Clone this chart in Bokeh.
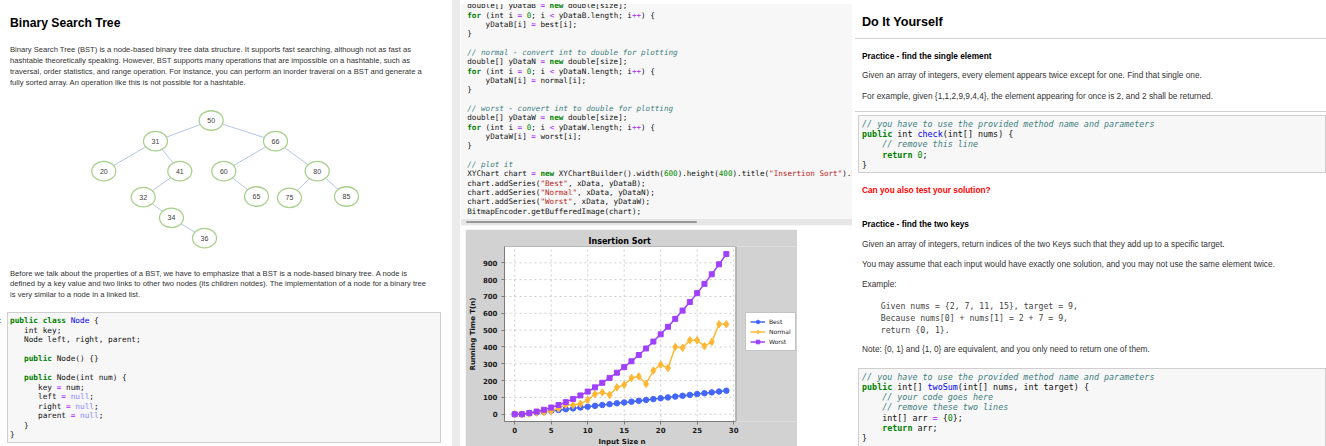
import html
import re
from bokeh.plotting import figure
from bokeh.models import (Div, Legend, LegendItem, ColumnDataSource, Range1d,
                          FixedTicker, Row, Column, Title)
from bokeh.embed import file_html
from bokeh.resources import INLINE
from bokeh.core.properties import value

PAGE_W, PAGE_H = 1326, 446

# ---------------- chart data ----------------
input_sizes = list(range(30))
best_times = [0, 0, 5, 10, 15, 20, 25, 30, 35, 40, 45, 50, 55, 60, 65,
              70, 75, 80, 85, 90, 95, 100, 105, 110, 115, 120, 125, 130, 135, 140]
normal_times = [0, 0, 5, 10, 13, 20, 35, 57, 55, 62, 85, 120, 130, 115, 160,
                175, 215, 225, 180, 260, 295, 275, 400, 395, 440, 440, 405, 430, 535, 535]
worst_times = [0, 0, 7, 16, 27, 40, 55, 72, 91, 112, 135, 160, 187, 216, 247,
               280, 315, 352, 391, 432, 475, 520, 567, 616, 667, 720, 775, 832, 891, 952]
series_labels = ["Best", "Normal", "Worst"]
x_tick_values = [0, 5, 10, 15, 20, 25, 30]
y_tick_values = [0, 100, 200, 300, 400, 500, 600, 700, 800, 900]

# ---------------- tree diagram data ----------------
node_keys = [50, 31, 66, 20, 41, 60, 80, 32, 65, 75, 85, 34, 36]
node_parents = [None, 50, 50, 31, 31, 66, 66, 41, 60, 80, 80, 32, 34]
node_x = [210.7, 155, 275, 103.3, 179.3, 223.3, 316.7, 142.7, 256, 289, 346, 171, 204]
node_y = [20, 40.7, 40.7, 70.7, 70.7, 70.7, 70.7, 96.7, 96, 97.3, 96, 117.3, 137.7]

# ---------------- page texts ----------------
left_title = "Binary Search Tree"
left_para1 = [
    "Binary Search Tree (BST) is a node-based binary tree data structure. It supports fast searching, although not as fast as",
    "hashtable theoretically speaking. However, BST supports many operations that are impossible on a hashtable, such as",
    "traversal, order statistics, and range operation. For instance, you can perform an inorder traveral on a BST and generate a",
    "fully sorted array. An operation like this is not possible for a hashtable.",
]
left_para2 = [
    "Before we talk about the properties of a BST, we have to emphasize that a BST is a node-based binary tree. A node is",
    "defined by a key value and two links to other two nodes (its children notdes). The implementation of a node for a binary tree",
    "is very similar to a node in a linked list.",
]
left_code = [
    "public class Node {",
    "   int key;",
    "   Node left, right, parent;",
    "",
    "   public Node() {}",
    "",
    "   public Node(int num) {",
    "      key = num;",
    "      left = null;",
    "      right = null;",
    "      parent = null;",
    "   }",
    "}",
]
mid_code = [
    "double[] yDataB = new double[size];",
    "for (int i = 0; i < yDataB.length; i++) {",
    "    yDataB[i] = best[i];",
    "}",
    "",
    "// normal - convert int to double for plotting",
    "double[] yDataN = new double[size];",
    "for (int i = 0; i < yDataN.length; i++) {",
    "    yDataN[i] = normal[i];",
    "}",
    "",
    "// worst - convert int to double for plotting",
    "double[] yDataW = new double[size];",
    "for (int i = 0; i < yDataW.length; i++) {",
    "    yDataW[i] = worst[i];",
    "}",
    "",
    "// plot it",
    'XYChart chart = new XYChartBuilder().width(600).height(400).title("Insertion Sort").build();',
    'chart.addSeries("Best", xData, yDataB);',
    'chart.addSeries("Normal", xData, yDataN);',
    'chart.addSeries("Worst", xData, yDataW);',
    "BitmapEncoder.getBufferedImage(chart);",
]
right_title = "Do It Yourself"
practice1_head = "Practice - find the single element"
practice1_text = [
    "Given an array of integers, every element appears twice except for one. Find that single one.",
    "For example, given {1,1,2,9,9,4,4}, the element appearing for once is 2, and 2 shall be returned.",
]
practice1_code = [
    "// you have to use the provided method name and parameters",
    "public int check(int[] nums) {",
    "    // remove this line",
    "    return 0;",
    "}",
]
test_question = "Can you also test your solution?"
practice2_head = "Practice - find the two keys"
practice2_text = [
    "Given an array of integers, return indices of the two Keys such that they add up to a specific target.",
    "You may assume that each input would have exactly one solution, and you may not use the same element twice.",
    "Example:",
]
practice2_example = [
    "    Given nums = {2, 7, 11, 15}, target = 9,",
    "    Because nums[0] + nums[1] = 2 + 7 = 9,",
    "    return {0, 1}.",
]
practice2_note = "Note: {0, 1} and {1, 0} are equivalent, and you only need to return one of them."
practice2_code = [
    "// you have to use the provided method name and parameters",
    "public int[] twoSum(int[] nums, int target) {",
    "    // your code goes here",
    "    // remove these two lines",
    "    int[] arr = {0};",
    "    return arr;",
    "}",
]

# ---------------- helpers ----------------
SANS = "'Liberation Sans', Arial, Helvetica, sans-serif"
MONO = "'DejaVu Sans Mono', monospace"

KEYWORDS = {"public", "class", "for", "new", "return"}
ATOMS = {"null", "true", "false"}
DEF_NAMES = {"check", "twoSum"}
TOKENS = re.compile(r'(//.*)|("[^"]*")|(\d+)|([A-Za-z_]\w*)|([=<>+\-*/!&|%]+)|(\s+)|(.)')


def highlight(src):
    out = []
    prev = None
    for m in TOKENS.finditer(src):
        com, st, num, word, op, ws, other = m.groups()
        tok = html.escape(m.group(0))
        if com:
            out.append(f'<span style="color:#408080;font-style:italic">{tok}</span>')
        elif st:
            out.append(f'<span style="color:#BA2121">{tok}</span>')
        elif num:
            out.append(f'<span style="color:#008800">{tok}</span>')
        elif word:
            if word in KEYWORDS:
                out.append(f'<span style="color:#008000;font-weight:bold">{tok}</span>')
            elif word in ATOMS:
                out.append(f'<span style="color:#8888FF">{tok}</span>')
            elif word in DEF_NAMES or prev == "class":
                out.append(f'<span style="color:#0000FF">{tok}</span>')
            else:
                out.append(tok)
            prev = word
        elif op:
            out.append(f'<span style="color:#AA22FF">{tok}</span>')
        else:
            out.append(tok)
    return "".join(out)


def text_el(x, yc, inner, size, lh=None, color="#333", weight="normal", family=SANS):
    lh = lh if lh else round(size * 1.35, 2)
    top = yc - lh / 2
    return (f'<div style="position:absolute;left:{x:.2f}px;top:{top:.2f}px;'
            f'font-family:{family};font-size:{size}px;line-height:{lh}px;'
            f'color:{color};font-weight:{weight};white-space:pre;margin:0;padding:0;">{inner}</div>')


def rect_el(x, y, w, h, bg, extra=""):
    return (f'<div style="position:absolute;left:{x}px;top:{y}px;width:{w}px;height:{h}px;'
            f'background:{bg};{extra}"></div>')


def code_block(bx, by, bw, bh, lines, tx, ty0, step, size, bg="#f7f7f7",
               border="#cfcfcf", hl=True, color="#111"):
    b = 1 if border else 0
    inner = []
    for i, line in enumerate(lines):
        content = highlight(line) if hl else html.escape(line)
        inner.append(text_el(tx - bx - b, ty0 + i * step - by - b, content, size,
                             lh=step, color=color, family=MONO))
    style = (f"position:absolute;left:{bx}px;top:{by}px;width:{bw}px;height:{bh}px;"
             f"overflow:hidden;box-sizing:border-box;")
    if bg:
        style += f"background:{bg};"
    if border:
        style += f"border:1px solid {border};"
    return f'<div style="{style}">' + "".join(inner) + "</div>"


def make_div(w, h, parts, bg="#ffffff"):
    body = (f'<div style="position:relative;width:{w}px;height:{h}px;overflow:hidden;'
            f'background:{bg};margin:0;padding:0;">' + "".join(parts) + "</div>")
    return Div(text=body, width=w, height=h, margin=(0, 0, 0, 0), disable_math=True)


# ---------------- left column ----------------
LEFT_W = 452
left_top_parts = [text_el(10, 23.3, html.escape(left_title), 12.2, color="#000", weight="bold")]
for i, t in enumerate(left_para1):
    left_top_parts.append(text_el(10, 50.7 + i * 10.9, html.escape(t), 7.64, lh=10.9))
left_top = make_div(LEFT_W, 100, left_top_parts)

tree = figure(width=LEFT_W, height=160, x_range=Range1d(0, LEFT_W), y_range=Range1d(160, 0),
              x_axis_type=None, y_axis_type=None, output_backend="svg",
              toolbar_location=None, min_border=0)
tree.outline_line_color = None
tree.background_fill_color = "white"
tree.border_fill_color = "white"
key_pos = {k: (x, y) for k, x, y in zip(node_keys, node_x, node_y)}
seg = dict(x0=[], y0=[], x1=[], y1=[])
for k, par in zip(node_keys, node_parents):
    if par is None:
        continue
    seg["x0"].append(key_pos[par][0]); seg["y0"].append(key_pos[par][1])
    seg["x1"].append(key_pos[k][0]); seg["y1"].append(key_pos[k][1])
tree.segment("x0", "y0", "x1", "y1", source=ColumnDataSource(seg),
             line_color="#b4c7e7", line_width=1)
node_src = ColumnDataSource(dict(x=node_x, y=node_y, label=[str(k) for k in node_keys]))
tree.ellipse("x", "y", width=24, height=19.5, source=node_src, fill_color="white",
             line_color="#a9d18e", line_width=1.3)
tree.text("x", "y", text="label", source=node_src, text_align="center",
          text_baseline="middle", text_font=value("Liberation Sans"),
          text_font_size="7px", text_color="#404040")

LB_Y = 260
left_bottom_parts = []
for i, t in enumerate(left_para2):
    left_bottom_parts.append(text_el(10, 274 + i * 10.7 - LB_Y, html.escape(t), 7.64, lh=10.7))
left_bottom_parts.append(text_el(-1.5, 321 - LB_Y, ":", 8, color="#303F9F", weight="bold"))
left_bottom_parts.append(code_block(7, 312 - LB_Y, 434, 131, left_code, 10, 321 - LB_Y, 9.5, 7.75))
left_bottom = make_div(LEFT_W, PAGE_H - LB_Y, left_bottom_parts)

left_col = Column(children=[left_top, tree, left_bottom], spacing=0)

# ---------------- separator strip ----------------
strip = make_div(8, PAGE_H, [], bg="#ebebeb")

# ---------------- middle column ----------------
MX = 460
MID_W = 392
mid_parts = [
    code_block(0.5, 4, MID_W - 0.5, 222, mid_code, 467.3 - MX, 5.97, 9.33, 7.6,
               border=None),
    rect_el(0.5, 218.5, MID_W - 0.5, 6, "#e6e6e6"),
    rect_el(466 - MX, 220.5, 231, 2.6, "#9a9a9a", "border-radius:1.5px;"),
]
mid_top = make_div(MID_W, 229, mid_parts)

# chart: the frame spans plot area + legend column; the plot area is a white box
CH_W = 332
chart_h = PAGE_H - 229
CHART_BG = "#d2d2d2"
X_LO, X_HI, X_FRAME_HI = -1.40, 30.31, 38.75
Y_LO, Y_HI = -43, 997
p = figure(width=CH_W, height=chart_h, x_range=Range1d(X_LO, X_FRAME_HI), y_range=Range1d(Y_LO, Y_HI),
           output_backend="svg", toolbar_location=None, title="Insertion Sort",
           min_border_left=37, min_border_right=0, min_border_top=17, min_border_bottom=25)
p.background_fill_color = CHART_BG
p.border_fill_color = CHART_BG
p.outline_line_color = None
p.grid.visible = False
p.title.align = "left"
p.title.offset = 84
p.title.text_font = "DejaVu Sans"
p.title.text_font_size = "8px"
p.title.text_font_style = "bold"
p.title.text_color = "#000000"
p.title.standoff = 2

# plot area background and dotted grid
p.quad(left=[X_LO], right=[X_HI], bottom=[Y_LO], top=[Y_HI], fill_color="white",
       line_color="#8a8a8a", line_width=1)
p.segment(x0=x_tick_values, x1=x_tick_values, y0=[Y_LO] * len(x_tick_values),
          y1=[Y_HI] * len(x_tick_values), line_color="#c0c0c0", line_dash="2 3", line_width=0.8)
p.segment(x0=[X_LO] * len(y_tick_values), x1=[X_HI] * len(y_tick_values), y0=y_tick_values,
          y1=y_tick_values, line_color="#c0c0c0", line_dash="2 3", line_width=0.8)

p.xaxis.ticker = FixedTicker(ticks=x_tick_values)
p.yaxis.ticker = FixedTicker(ticks=y_tick_values)
p.xaxis.bounds = (X_LO, X_HI)
p.yaxis.axis_label = "Running Time T(n)"
for ax in (p.xaxis[0], p.yaxis[0]):
    ax.axis_line_color = "#7a7a7a"
    ax.major_tick_line_color = "#7a7a7a"
    ax.major_tick_out = 3
    ax.major_tick_in = 0
    ax.minor_tick_out = 0
    ax.minor_tick_in = 0
    ax.major_label_text_font = "DejaVu Sans"
    ax.major_label_text_font_size = "7px"
    ax.major_label_text_font_style = "bold"
    ax.major_label_text_color = "#1a1a1a"
    ax.axis_label_text_font = "DejaVu Sans"
    ax.axis_label_text_font_size = "7px"
    ax.axis_label_text_font_style = "bold"
    ax.axis_label_text_color = "#111111"
p.xaxis.major_label_standoff = 2
p.yaxis.major_label_standoff = 4
p.yaxis.axis_label_standoff = 3

# x-axis title centred under the plot area (not under the legend column)
x_title = Title(text="Input Size n", align="left", offset=94, standoff=1,
                text_font="DejaVu Sans", text_font_size="7px", text_font_style="bold",
                text_color="#111111")
p.add_layout(x_title, "below")

src = ColumnDataSource(dict(n=input_sizes, best=best_times, normal=normal_times, worst=worst_times))
series_cols = ["best", "normal", "worst"]
series_colors = ["#4466ff", "#ffb836", "#a040ff"]
series_markers = ["circle", "diamond", "square"]
series_sizes = [5.5, 7.5, 5]
items = []
for lab, col, colr, mk, sz in zip(series_labels, series_cols, series_colors, series_markers, series_sizes):
    ln = p.line("n", col, source=src, line_color=colr, line_width=1.5)
    sc = p.scatter("n", col, source=src, marker=mk, size=sz, fill_color=colr, line_color=colr)
    items.append(LegendItem(label=lab, renderers=[ln, sc]))

legend = Legend(items=items, location=(241, 70), orientation="vertical",
                background_fill_color="white", background_fill_alpha=1.0,
                border_line_color="#8a8a8a", label_text_font="DejaVu Sans",
                label_text_font_size="6px", label_text_color="#222222",
                glyph_width=15, glyph_height=9, label_height=9, label_width=10,
                label_standoff=4, padding=4, spacing=1, margin=0)
p.add_layout(legend, "center")

left_pad = make_div(5, chart_h, [])
right_pad = make_div(MID_W - 5 - CH_W, chart_h, [])
mid_bottom = Row(children=[left_pad, p, right_pad], spacing=0)
mid_col = Column(children=[mid_top, mid_bottom], spacing=0)

# ---------------- right column ----------------
RX = 852
RIGHT_W = PAGE_W - RX
box_w = RIGHT_W - 6 - 0.5
right_parts = [
    text_el(862 - RX, 22.5, html.escape(right_title), 12.6, color="#000", weight="bold"),
    rect_el(855 - RX, 38, RIGHT_W, 1, "#d0d0d0"),
    text_el(862 - RX, 57, html.escape(practice1_head), 8.3, color="#000", weight="bold"),
    text_el(862 - RX, 76, html.escape(practice1_text[0]), 8.3),
    text_el(862 - RX, 96.7, html.escape(practice1_text[1]), 8.3),
    rect_el(855 - RX, 110.8, RIGHT_W, 1, "#d0d0d0"),
    code_block(858 - RX, 115.3, box_w, 58, practice1_code, 862 - RX, 124, 10.3, 8.4),
    text_el(862 - RX, 190.7, html.escape(test_question), 8.3, color="#ff0000", weight="bold"),
    text_el(862 - RX, 225, html.escape(practice2_head), 8.3, color="#000", weight="bold"),
    text_el(862 - RX, 244.3, html.escape(practice2_text[0]), 8.3),
    text_el(862 - RX, 264.3, html.escape(practice2_text[1]), 8.3),
    text_el(862 - RX, 285, html.escape(practice2_text[2]), 8.3),
    code_block(858 - RX, 298, box_w, 40, practice2_example, 861 - RX, 305.7, 12.1, 8.2,
               bg=None, border=None, hl=False, color="#444"),
    text_el(862 - RX, 350, html.escape(practice2_note), 8.3),
    code_block(858 - RX, 368, box_w, 90, practice2_code, 862 - RX, 376.7, 10.3, 8.4),
]
right_div = make_div(RIGHT_W, PAGE_H, right_parts)

root = Row(children=[left_col, strip, mid_col, right_div], spacing=0)

open("out.html", "w").write(file_html(root, INLINE))
